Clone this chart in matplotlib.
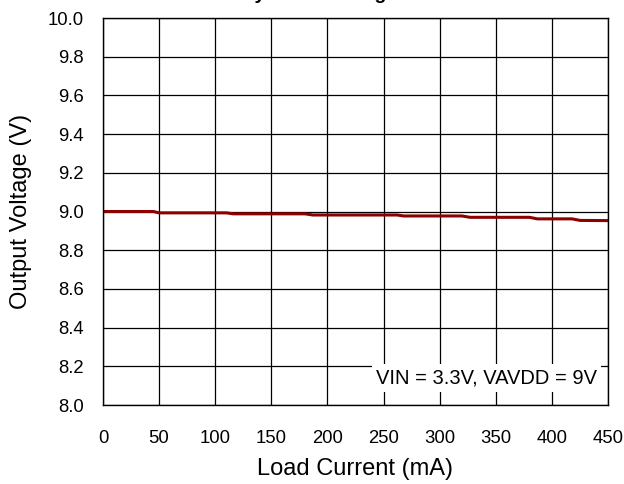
import numpy as np
import matplotlib
matplotlib.use("Agg")
import matplotlib.pyplot as plt

# === Data ===
load_current = [0, 45, 50, 110, 116, 180, 187, 262, 268, 320, 327, 380, 387, 418, 425, 450]
output_voltage = [9.000, 9.000, 8.993, 8.993, 8.988, 8.988, 8.982, 8.982,
                  8.977, 8.977, 8.970, 8.970, 8.962, 8.962, 8.954, 8.953]

x_ticks = np.arange(0, 451, 50)
y_ticks = np.arange(8.0, 10.01, 0.2)
title = "Efficiency vs Load Regulation"
note = "VIN = 3.3V, VAVDD = 9V"

plt.rcParams['font.family'] = ['Liberation Sans', 'DejaVu Sans']

fig = plt.figure(figsize=(6.24, 4.84), dpi=100)
ax = fig.add_axes([0.165, 0.1632, 0.8093, 0.7996])

ax.plot(load_current, output_voltage, color='#8b0000', lw=2.2)

ax.set_xlim(0, 450)
ax.set_ylim(8.0, 10.0)
ax.set_xticks(x_ticks)
ax.set_yticks(y_ticks)
ax.set_yticklabels([f"{v:.1f}" for v in y_ticks])
ax.tick_params(length=0, labelsize=13.3)
ax.tick_params(axis='x', pad=18)
ax.tick_params(axis='y', pad=14)
ax.grid(True, color='black', lw=0.9)
ax.set_axisbelow(True)
for s in ax.spines.values():
    s.set_linewidth(1)

ax.set_xlabel('Load Current (mA)', fontsize=17, labelpad=8)
ax.set_ylabel('Output Voltage (V)', fontsize=17, labelpad=11)

# note box covering grid lines
ax.text(0.978, 0.07, note, transform=ax.transAxes, ha='right', va='center',
        fontsize=14.5, zorder=5,
        bbox=dict(facecolor='white', edgecolor='none', pad=3))

# title is mostly cut off at the top of the image
fig.text(0.5, 1.0 + 1.5 / 484, title, ha='center', va='baseline',
         fontsize=14, fontweight='bold')

fig.savefig('out.png', dpi=100)
